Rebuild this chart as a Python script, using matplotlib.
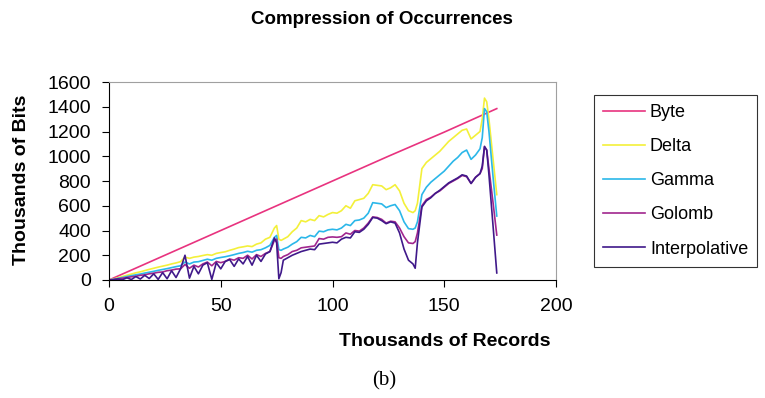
import matplotlib
matplotlib.use("Agg")
import matplotlib.pyplot as plt

# ----------------------------- data -----------------------------
records = [0, 2, 4, 6, 8, 10, 12, 14, 16, 18, 20, 22, 24, 26, 28, 30, 32, 34, 36, 38,
           40, 42, 44, 46, 48, 50, 52, 54, 56, 58, 60, 62, 64, 66, 68, 70, 72, 74, 75, 76,
           77, 78, 80, 82, 84, 86, 88, 90, 92, 94, 96, 98, 100, 102, 104, 106, 108, 110, 112, 114,
           116, 118, 120, 122, 124, 126, 128, 130, 132, 134, 136, 137, 138, 140, 142, 144, 146, 148, 150, 152,
           154, 156, 158, 160, 162, 164, 166, 167, 168, 169, 170, 172, 173.5]

byte_x = [0, 25, 50, 75, 100, 125, 150, 173.5]
byte = [0, 200, 400, 600, 800, 1000, 1195, 1385]

delta = [0, 8, 18, 28, 38, 48, 58, 66, 76, 86, 95, 104, 112, 120, 130, 138, 148, 185, 175, 185,
         190, 198, 205, 200, 215, 222, 228, 240, 250, 262, 268, 275, 270, 290, 300, 330, 345, 420, 440, 330,
         320, 330, 350, 390, 420, 480, 470, 490, 480, 520, 510, 530, 545, 540, 560, 600, 580, 640, 650, 660,
         700, 770, 765, 760, 730, 745, 770, 720, 620, 560, 545, 560, 620, 900, 950, 980, 1010, 1040, 1080, 1120,
         1150, 1180, 1210, 1220, 1140, 1170, 1200, 1300, 1470, 1440, 1300, 950, 690]

gamma = [0, 6, 13, 20, 28, 35, 42, 48, 56, 63, 70, 78, 85, 92, 100, 108, 115, 145, 130, 145,
         148, 158, 168, 160, 175, 182, 188, 196, 205, 215, 222, 232, 225, 240, 245, 260, 280, 345, 360, 245,
         240, 250, 265, 290, 310, 345, 340, 360, 350, 395, 390, 405, 410, 405, 420, 450, 440, 480, 485, 500,
         540, 625, 620, 615, 585, 600, 610, 560, 470, 415, 410, 420, 470, 690, 750, 790, 820, 850, 880, 920,
         960, 990, 1030, 1050, 975, 1010, 1060, 1150, 1385, 1360, 1200, 800, 517]

golomb = [0, 4, 10, 14, 20, 26, 30, 38, 42, 50, 55, 62, 65, 75, 80, 88, 90, 125, 95, 120,
          105, 130, 145, 115, 150, 140, 150, 170, 160, 180, 175, 200, 170, 205, 190, 215, 230, 320, 330, 180,
          175, 190, 205, 230, 240, 260, 265, 270, 275, 335, 330, 345, 348, 345, 350, 380, 370, 400, 395, 420,
          460, 510, 505, 490, 460, 475, 470, 420, 350, 300, 295, 310, 380, 600, 650, 670, 700, 720, 750, 780,
          800, 820, 845, 835, 780, 830, 860, 900, 1075, 1050, 900, 600, 363]

interp = [0, 2, 8, 2, 18, 4, 28, 8, 38, 12, 50, 5, 60, 10, 75, 20, 90, 200, 15, 110,
          50, 120, 140, 5, 140, 90, 150, 165, 110, 170, 130, 190, 120, 200, 150, 210, 230, 340, 300, 10,
          60, 160, 180, 200, 215, 230, 240, 250, 245, 290, 295, 300, 305, 300, 330, 345, 340, 390, 385, 410,
          450, 505, 500, 480, 455, 470, 460, 380, 250, 160, 130, 95, 300, 590, 640, 665, 700, 725, 755, 785,
          805, 825, 850, 840, 780, 830, 860, 920, 1080, 1050, 850, 400, 57]

labels = ["Byte", "Delta", "Gamma", "Golomb", "Interpolative"]
colors = ["#E8337F", "#F3F03A", "#2BB7E9", "#A1268E", "#40198A"]

# ----------------------------- figure -----------------------------
plt.rcParams['font.family'] = ['Liberation Sans', 'DejaVu Sans']

fig = plt.figure(figsize=(7.65, 3.98), dpi=100)
ax = fig.add_axes([109 / 765, 1 - 280 / 398, (556 - 109) / 765, (280 - 82) / 398])

ax.plot(byte_x, byte, color=colors[0], lw=1.2, label=labels[0])
ax.plot(records, delta, color=colors[1], lw=1.2, label=labels[1])
ax.plot(records, gamma, color=colors[2], lw=1.2, label=labels[2])
ax.plot(records, golomb, color=colors[3], lw=1.2, label=labels[3])
ax.plot(records, interp, color=colors[4], lw=1.2, label=labels[4])

ax.set_xlim(0, 200)
ax.set_ylim(0, 1600)
ax.set_xticks([0, 50, 100, 150, 200])
ax.set_yticks(range(0, 1601, 200))
ax.tick_params(labelsize=14, direction='out', length=5, width=0.8, pad=8)
for s in ['top', 'right']:
    ax.spines[s].set_color('#a0a0a0')
for s in ['left', 'bottom']:
    ax.spines[s].set_color('black')

fig.text(382 / 765, 1 - 20 / 398, "Compression of Occurrences", ha='center', va='center',
         fontsize=13.5, fontweight='bold')
fig.text(445 / 765, 1 - 342 / 398, "Thousands of Records", ha='center', va='center',
         fontsize=14, fontweight='bold')
fig.text(22 / 765, 1 - 180 / 398, "Thousands of Bits", ha='center', va='center',
         fontsize=14, fontweight='bold', rotation=90)
fig.text(384 / 765, 1 - 381 / 398, "(b)", ha='center', va='center',
         fontsize=15, family='Liberation Serif')

leg = ax.legend(loc='upper left', bbox_to_anchor=(594 / 765, 1 - 95 / 398),
                bbox_transform=fig.transFigure, fontsize=13, frameon=True, fancybox=False,
                edgecolor='black', handlelength=2.3, handletextpad=0.3, labelspacing=0.95,
                borderpad=0.5, borderaxespad=0)
leg.get_frame().set_linewidth(0.8)

fig.savefig("out.png", dpi=100)
